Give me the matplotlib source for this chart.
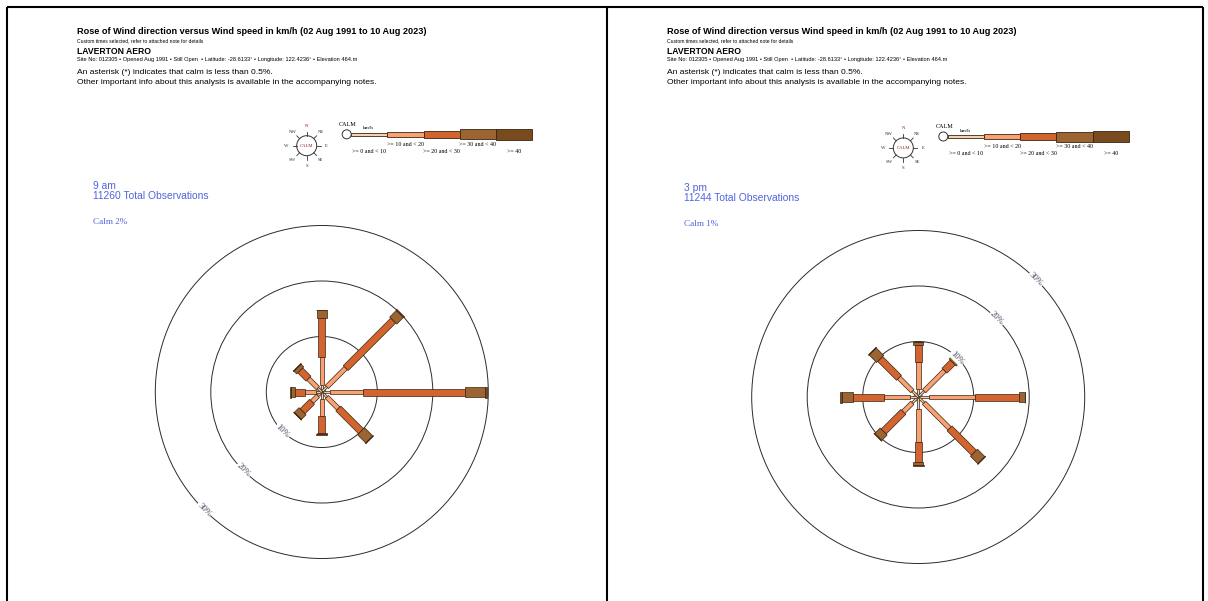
import numpy as np
import matplotlib
matplotlib.use("Agg")
import matplotlib.pyplot as plt
from matplotlib.patches import Polygon, Circle, Rectangle

W, H = 1208, 601

directions = ["N", "NE", "E", "SE", "S", "SW", "W", "NW"]
speed_bins = [">= 0 and < 10", ">= 10 and < 20", ">= 20 and < 30", ">= 30 and < 40", ">= 40"]
bin_colors = ["#f0d4b4", "#f8a274", "#d2642f", "#9b6431", "#7a4a1f"]

# % of observations per direction (rows, N..NW) and speed bin (columns)
am_pct = [
    [1.3, 5.0, 7.1, 1.3, 0.1],
    [1.3, 4.8, 12.1, 1.7, 0.2],
    [1.5, 6.0, 18.3, 3.6, 0.3],
    [1.3, 2.9, 5.8, 2.1, 0.1],
    [1.3, 3.1, 3.0, 0.2, 0.1],
    [1.0, 1.5, 2.4, 1.2, 0.1],
    [1.0, 2.0, 1.8, 0.7, 0.3],
    [1.0, 2.4, 2.1, 0.7, 0.1],
]
pm_pct = [
    [1.5, 4.8, 3.0, 0.6, 0.1],
    [1.5, 5.2, 2.1, 0.8, 0.1],
    [2.0, 8.2, 7.9, 1.1, 0.1],
    [1.5, 6.5, 6.2, 1.9, 0.1],
    [2.1, 6.0, 3.6, 0.6, 0.2],
    [1.5, 2.3, 5.0, 1.4, 0.1],
    [1.5, 4.6, 5.6, 2.1, 0.3],
    [1.5, 3.4, 4.8, 1.9, 0.1],
]
panel_times = ["9 am", "3 pm"]
panel_obs = [11260, 11244]
panel_calm = [2, 1]
ring_pct = [10, 20, 30]
ring_label_dir = [225, 45]

title = "Rose of Wind direction versus Wind speed in km/h (02 Aug 1991 to 10 Aug 2023)"
subtitle = "Custom times selected, refer to attached note for details"
station = "LAVERTON AERO"
site_info = ("Site No: 012305 \u2022 Opened Aug 1991 \u2022 Still Open  \u2022 Latitude: -28.6133\u00b0 "
             "\u2022 Longitude: 122.4236\u00b0 \u2022 Elevation 464.m")
note1 = "An asterisk (*) indicates that calm is less than 0.5%."
note2 = "Other important info about this analysis is available in the accompanying notes."

SANS = "Liberation Sans"
SERIF = "Liberation Serif"
BLUE = "#5064dc"
EDGE = "#3b2412"
arm_w_px = [2.0, 4.6, 7.0, 10.0, 11.0]
leg_h_px = [2.6, 5.5, 7.5, 10.0, 11.0]
PP = 5.55  # pixels per percent

fig = plt.figure(figsize=(W / 100, H / 100), dpi=100)
bg = fig.add_axes([0, 0, 1, 1])
bg.set_xlim(0, W); bg.set_ylim(H, 0); bg.axis("off")

# frame
lw = 1.5
bg.plot([7, 1203], [7, 7], color="k", lw=lw, solid_capstyle="butt")
for x in (7, 607, 1203):
    bg.plot([x, x], [7, H], color="k", lw=lw, solid_capstyle="butt")

head_dx = [0, 590]
leg_dx = [0, 596.6]
leg_dy = [0, 2.2]
rose_c = [(321.8, 392.0), (918.2, 397.0)]
blue_dx = [0, 591]
blue_dy = [0, 2]

for p in range(2):
    hx = 77 + head_dx[p]
    bg.text(hx, 32, title, fontsize=6.6, fontweight="bold", family=SANS, va="center")
    bg.text(hx, 41, subtitle, fontsize=3.6, family=SANS, va="center")
    bg.text(hx, 51, station, fontsize=6.2, fontweight="bold", family=SANS, va="center")
    bg.text(hx, 60, site_info, fontsize=4.1, family=SANS, va="center")
    bg.text(hx, 73, note1, fontsize=6.1, family=SANS, va="center")
    bg.text(hx, 82, note2, fontsize=6.1, family=SANS, va="center")

    # compass key
    ccx, ccy = 306.7 + leg_dx[p], 145.7 + leg_dy[p]
    bg.add_patch(Circle((ccx, ccy), 10, fill=False, ec="#333333", lw=0.7))
    for i, d in enumerate(directions):
        a = np.radians(i * 45)
        ux, uy = np.sin(a), -np.cos(a)
        bg.plot([ccx + 10 * ux, ccx + 14 * ux], [ccy + 10 * uy, ccy + 14 * uy], color="#333333", lw=0.6)
        bg.text(ccx + 20 * ux, ccy + 20 * uy, d, fontsize=3.4, family=SERIF, ha="center", va="center",
                color="#8b1a1a" if d == "N" else "#333333")
    bg.text(ccx, ccy, "CALM", fontsize=3.4, family=SERIF, ha="center", va="center", color="#8b1a1a")

    # speed key
    lx, ly = 346.7 + leg_dx[p], 134.3 + leg_dy[p]
    bg.add_patch(Circle((lx, ly), 4.5, fc="white", ec="#333333", lw=0.7, zorder=3))
    bg.text(lx + 1, ly - 9.5, "CALM", fontsize=4.4, family=SERIF, ha="center", va="center")
    bg.text(lx + 22, ly - 6, "km/h", fontsize=3.9, family=SERIF, ha="center", va="center")
    seg = 36.2
    x0 = lx + 4.5
    for k, lab in enumerate(speed_bins):
        h = leg_h_px[k]
        bg.add_patch(Rectangle((x0 + k * seg, ly - h / 2), seg, h, fc=bin_colors[k], ec=EDGE, lw=0.6))
        yl = ly + (10 if k % 2 else 17.4)
        bg.text(x0 + (k + 0.5) * seg, yl, lab, fontsize=4.3, family=SERIF, ha="center", va="center")

    bx = 93 + blue_dx[p]
    by = 186 + blue_dy[p]
    bg.text(bx, by, panel_times[p], fontsize=7.4, family=SANS, color=BLUE, va="center")
    bg.text(bx, by + 10, f"{panel_obs[p]} Total Observations", fontsize=7.4, family=SANS, color=BLUE,
            va="center")
    bg.text(bx, by + 36, f"Calm {panel_calm[p]}%", fontsize=6.6, family=SERIF, color=BLUE, va="center")

    # rose
    cx, cy = rose_c[p]
    half = 215
    ax = fig.add_axes([(cx - half) / W, (H - cy - half) / H, 2 * half / W, 2 * half / H])
    ax.set_xlim(-half / PP, half / PP); ax.set_ylim(-half / PP, half / PP)
    ax.axis("off")
    for r in ring_pct:
        ax.add_patch(Circle((0, 0), r, fill=False, ec="#2b2b2b", lw=0.7, clip_on=False))
        a = np.radians(ring_label_dir[p])
        ax.text(r * np.sin(a), r * np.cos(a), f"{r}%", fontsize=6.2, family=SERIF, color="#3e4658",
                rotation=-45, ha="center", va="center", rotation_mode="anchor",
                bbox=dict(fc="white", ec="none", pad=0.6), clip_on=False)
    pct = am_pct if p == 0 else pm_pct
    ax.add_patch(Circle((0, 0), 0.75, fc="#f6eadb", ec="#6b5040", lw=0.6, zorder=1))
    for i, d in enumerate(directions):
        a = np.radians(i * 45)
        u = np.array([np.sin(a), np.cos(a)])
        v = np.array([np.cos(a), -np.sin(a)])
        cum = np.concatenate([[0], np.cumsum(pct[i])])
        for k in range(len(speed_bins)):
            r0, r1 = cum[k], cum[k + 1]
            hw = arm_w_px[k] / 2 / PP
            pts = [r0 * u + hw * v, r1 * u + hw * v, r1 * u - hw * v, r0 * u - hw * v]
            ax.add_patch(Polygon(pts, closed=True, fc=bin_colors[k], ec=EDGE, lw=0.5, zorder=2,
                                 clip_on=False))

fig.savefig("out.png", dpi=100)
